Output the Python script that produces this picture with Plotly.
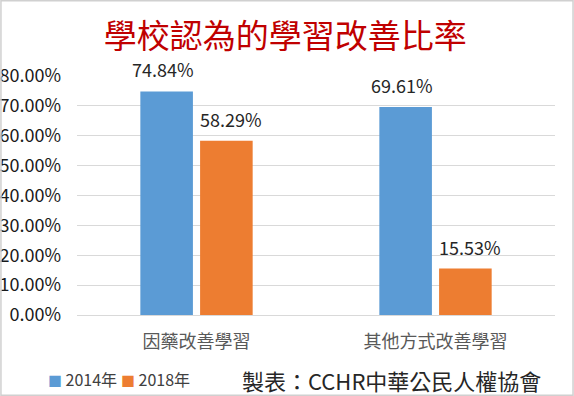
import plotly.graph_objects as go

categories = ["因藥改善學習", "其他方式改善學習"]
series_names = ["2014年", "2018年"]
values_2014 = [0.7484, 0.6961]
values_2018 = [0.5829, 0.1553]
colors = ["#5B9BD5", "#ED7D31"]

FONT = "Noto Sans CJK TC, Noto Sans, sans-serif"
L, R, T, B = 77, 19, 76, 81
PW, PH = 574 - L - R, 396 - T - B

fig = go.Figure()
for name, vals, col in zip(series_names, [values_2014, values_2018], colors):
    fig.add_trace(go.Bar(
        x=categories, y=vals, name=name, marker=dict(color=col, line=dict(width=0)),
        showlegend=False,
    ))

# data labels above bars
for i, (vals, shift) in enumerate(zip([values_2014, values_2018], [-34, 34])):
    for c, v in zip(categories, vals):
        fig.add_annotation(x=c, y=v, xref="x", yref="y", text=f"{v*100:.2f}%",
                           showarrow=False, xshift=shift, yshift=8, yanchor="bottom",
                           borderpad=0,
                           font=dict(size=18, color="#262626", family=FONT))

fig.update_layout(
    width=574, height=396,
    paper_bgcolor="white", plot_bgcolor="white",
    margin=dict(l=L, r=R, t=T, b=B, autoexpand=False),
    barmode="group", bargap=0.5, bargroupgap=0.12,
    font=dict(family=FONT, color="#404040"),
    title=dict(text="學校認為的學習改善比率", x=0.497, xanchor="center", y=1 - 36 / 396, yanchor="middle",
               font=dict(size=33, color="#C00000", family=FONT)),
    showlegend=False,
)
fig.update_yaxes(range=[0, 0.8], dtick=0.1, tickformat=".2%", showgrid=True,
                 gridcolor="#D9D9D9", gridwidth=1, zeroline=False, showline=False,
                 automargin=False,
                 tickfont=dict(size=18, color="#1a1a1a", family=FONT), ticklabelstandoff=15)
fig.update_xaxes(showgrid=False, showline=True, linecolor="#D9D9D9", linewidth=1,
                 automargin=False,
                 tickfont=dict(size=18, color="#595959", family=FONT), ticklabelstandoff=10)

# legend (colored squares + names)
legend_x = [46, 119]
for lx, name, col in zip(legend_x, series_names, colors):
    fig.add_annotation(text=f"<span style='color:{col};font-size:14px'>■</span> {name}",
                       xref="paper", yref="paper",
                       x=(lx - L) / PW, y=(315 - 379) / PH, xanchor="left", yanchor="middle",
                       showarrow=False, font=dict(size=16, color="#404040", family=FONT))

fig.add_annotation(text="製表：CCHR中華公民人權協會", xref="paper", yref="paper",
                   x=(240 - L) / PW, y=(315 - 380) / PH, xanchor="left", yanchor="middle",
                   showarrow=False, font=dict(size=22, color="#262626", family=FONT))
fig.add_shape(type="rect", xref="paper", yref="paper",
              x0=-L / PW + 0.002, x1=1 + R / PW - 0.002,
              y0=-B / PH + 0.003, y1=1 + T / PH - 0.003,
              line=dict(color="#D0D0D0", width=1.5))

fig.write_html("out.html", config={"displayModeBar": False},
               post_script="document.body.style.margin='0';document.body.style.padding='0';")
